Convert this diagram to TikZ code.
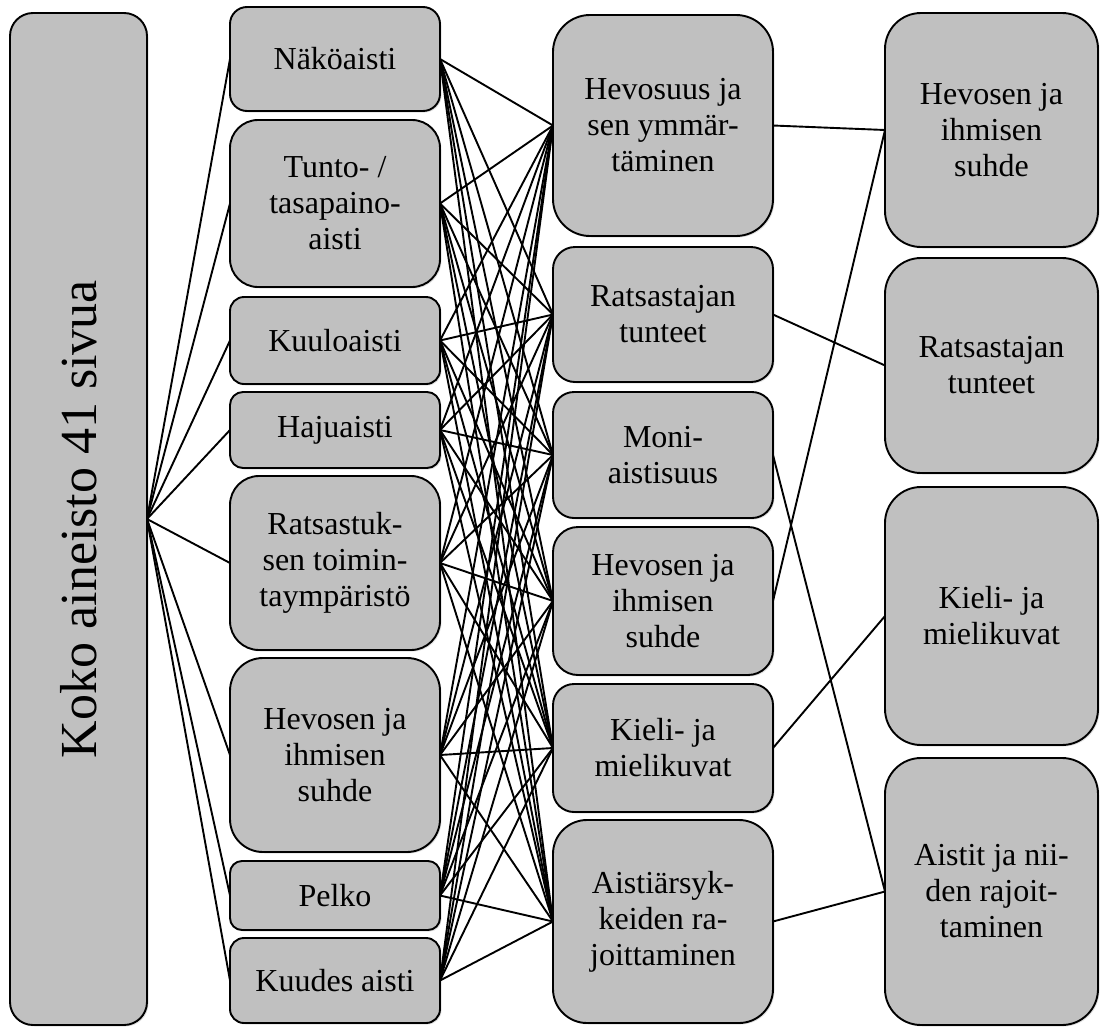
\documentclass[tikz,border=0pt]{standalone}
\usepackage{fontspec}
\usepackage{graphicx}
\setmainfont{Liberation Serif}
\usetikzlibrary{positioning,shadows}
\definecolor{boxgray}{RGB}{192,192,192}

\begin{document}
\begin{tikzpicture}[x=1pt,y=1pt,line width=1.9pt,
    box/.style={draw,fill=boxgray,rounded corners=#1,align=center,inner sep=0pt,outer sep=0pt,
      font=\fontsize{32}{36}\selectfont,
      drop shadow={opacity=0.25,shadow xshift=1.5pt,shadow yshift=-1.5pt}},
    sense node/.style={box=#1,minimum width=210pt},
    theme node/.style={box=#1,minimum width=220pt},
    main node/.style={box=#1,minimum width=213pt}]

  \useasboundingbox (0,0) rectangle (1100,-1028);

  % aineisto
  \node[box=23pt,minimum width=137pt,minimum height=1012pt] (koko) at (78.5,-519)
    {\rotatebox{90}{\fontsize{52}{60}\selectfont Koko aineisto 41 sivua}};

  % aistit ym.
  \node[sense node=17pt,minimum height=104pt] (n1) at (335,-59) {Näköaisti};
  \node[sense node=28pt,minimum height=167pt,below=9pt of n1] (n2) {Tunto- /\\tasapaino-\\aisti};
  \node[sense node=14pt,minimum height=87pt,below=10pt of n2] (n3) {Kuuloaisti};
  \node[sense node=13pt,minimum height=76pt,below=8pt of n3] (n4) {Hajuaisti};
  \node[sense node=29pt,minimum height=174pt,below=8pt of n4] (n5) {Ratsastuk-\\sen toimin-\\taympäristö};
  \node[sense node=33pt,minimum height=194pt,below=8pt of n5] (n6) {Hevosen ja\\ihmisen\\suhde};
  \node[sense node=12pt,minimum height=69pt,below=9pt of n6] (n7) {Pelko};
  \node[sense node=14pt,minimum height=85pt,below=8pt of n7] (n8) {Kuudes aisti};

  % teemat
  \node[theme node=37pt,minimum height=221pt] (m1) at (663,-125.5) {Hevosuus ja\\sen ymmär-\\täminen};
  \node[theme node=22pt,minimum height=135pt,below=11pt of m1] (m2) {Ratsastajan\\tunteet};
  \node[theme node=21pt,minimum height=126pt,below=10pt of m2] (m3) {Moni-\\aistisuus};
  \node[theme node=25pt,minimum height=148pt,below=9pt of m3] (m4) {Hevosen ja\\ihmisen\\suhde};
  \node[theme node=21pt,minimum height=128pt,below=9pt of m4] (m5) {Kieli- ja\\mielikuvat};
  \node[theme node=34pt,minimum height=203pt,below=8pt of m5] (m6) {Aistiärsyk-\\keiden ra-\\joittaminen};

  % paateemat
  \node[main node=36pt,minimum height=234pt] (r1) at (991.5,-130) {Hevosen ja\\ihmisen\\suhde};
  \node[main node=36pt,minimum height=215pt,below=11pt of r1] (r2) {Ratsastajan\\tunteet};
  \node[main node=36pt,minimum height=258pt,below=14pt of r2] (r3) {Kieli- ja\\mielikuvat};
  \node[main node=36pt,minimum height=267pt,below=13pt of r3] (r4) {Aistit ja nii-\\den rajoit-\\taminen};

  \foreach \i in {1,...,8}
    \draw (koko.east) -- (n\i.west);
  \foreach \i in {1,...,8}
    \foreach \j in {1,...,6}
      \draw (n\i.east) -- (m\j.west);
  \path[draw] (m1.east) -- (r1.west)
        (m2.east) -- (r2.west)
        (m3.east) -- (r4.west)
        (m4.east) -- (r1.west)
        (m5.east) -- (r3.west)
        (m6.east) -- (r4.west);

\end{tikzpicture}
\end{document}
